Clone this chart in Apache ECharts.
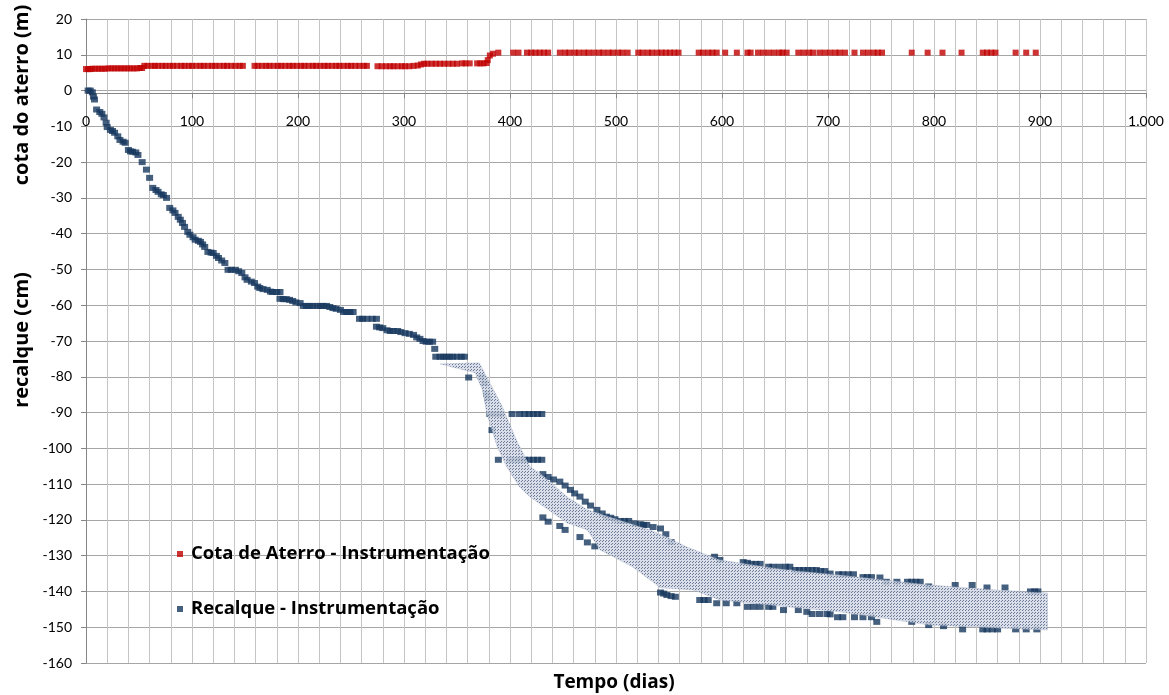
<!DOCTYPE html>
<html>
<head>
<meta charset="utf-8">
<script src="https://cdn.jsdelivr.net/npm/echarts@6/dist/echarts.min.js"></script>
<style>html,body{margin:0;padding:0;background:#fff}#c{width:1169px;height:695px}</style>
</head>
<body>
<div id="c"></div>
<script>
// Cota de aterro (m) – [dia, cota]
const cotaAterro = [
 [0,6.0],[2,6.0],[4,6.0],[6,6.1],[9,6.1],[12,6.1],[15,6.1],[18,6.1],[21,6.2],[24,6.2],[27,6.2],[30,6.2],[33,6.2],[36,6.2],[39,6.2],[42,6.2],[45,6.2],[48,6.2],[51,6.3],[53,6.3],
 [55,6.9],[58,6.9],[62,6.9],[65,6.9],[68,6.9],[72,6.9],[75,6.9],[79,6.9],[82,6.9],[86,6.9],[90,6.9],[93,6.9],[97,6.9],[100,6.9],[104,6.9],[108,6.9],[111,6.9],[115,6.9],[119,6.9],[122,6.9],[126,6.9],[130,6.9],[133,6.9],[137,6.9],[141,6.9],[145,6.9],[148,6.9],
 [159,6.9],[162,6.9],[166,6.9],[170,6.9],[173,6.9],[177,6.9],[181,6.9],[184,6.9],[188,6.9],[192,6.9],[195,6.9],[199,6.9],[203,6.9],[206,6.9],[210,6.9],[214,6.9],[217,6.9],[221,6.9],[225,6.9],[228,6.9],[232,6.9],[236,6.9],[239,6.9],[243,6.9],[247,6.9],[250,6.9],[254,6.9],[258,6.9],[262,6.9],[265,6.9],
 [275,6.8],[279,6.8],[283,6.8],[287,6.8],[290,6.8],[294,6.8],[298,6.8],[301,6.8],[305,6.8],[309,6.9],[313,7.0],
 [316,7.3],[319,7.5],[322,7.5],[326,7.5],[330,7.5],[334,7.5],[338,7.5],[342,7.5],[346,7.5],[350,7.5],
 [355,7.6],[358,7.6],[362,7.6],[369,7.6],[372,7.6],[375,7.6],[378,7.7],[379,8.5],[381,9.8],[384,10.3],
 [389,10.6],[403,10.6],[408,10.6],[416,10.6],[420,10.6],[424,10.6],[428,10.6],[432,10.6],[436,10.6],
 [447,10.6],[452,10.6],[456,10.6],[461,10.6],[465,10.6],[470,10.6],[474,10.6],
 [479,10.6],[484,10.6],[488,10.6],[493,10.6],[497,10.6],[502,10.6],[506,10.6],[511,10.6],
 [521,10.6],[525,10.6],[530,10.6],[534,10.6],[539,10.6],[543,10.6],[547,10.6],[551,10.6],[555,10.6],[559,10.6],
 [578,10.6],[582,10.6],[587,10.6],[591,10.6],[595,10.6],[603,10.6],[614,10.6],[624,10.6],[627,10.6],
 [634,10.6],[639,10.6],[644,10.6],[649,10.6],[654,10.6],[657,10.6],[661,10.6],
 [672,10.6],[677,10.6],[682,10.6],[686,10.6],[692,10.6],[697,10.6],[702,10.6],[707,10.6],[711,10.6],[716,10.6],
 [725,10.6],[733,10.6],[738,10.6],[743,10.6],[747,10.6],[751,10.6],
 [779,10.6],[794,10.6],[808,10.6],[826,10.6],[846,10.6],[850,10.6],[854,10.6],[858,10.6],[877,10.6],[887,10.6],[896,10.6]
];

// Recalque (cm) – [dia, recalque]
const recalque = [
 [2,0],[4,0],[6,-0.5],[7,-1.7],[8,-2.5],[10,-5.3],[13,-6],[15,-6.5],[17,-7.5],[19,-9],[20,-10.2],[23,-11],[25,-11.3],[27,-11.8],[30,-12.8],[32,-13.8],[35,-14.3],[37,-14.6],[40,-16.6],[42,-17],[44,-17.1],[47,-17.3],[49,-18],[53,-20],
 [57,-22.1],[60,-24.4],[63,-27.2],[66,-27.8],[68,-28.3],[71,-29],[73,-29.2],[76,-30],[79,-32.8],[82,-33.5],[84,-34.2],[87,-35.3],[89,-36.1],[91,-37],[93,-38.1],[96,-39.5],[98,-40.3],[101,-41],[103,-41.7],[106,-42],[108,-42.3],[110,-43],[112,-43.7],[115,-45.1],[118,-45.3],[120,-45.4],[123,-46.2],[125,-46.8],[128,-47.5],[131,-48.2],
 [134,-50.1],[137,-50.1],[141,-50.1],[144,-50.5],[147,-51],[150,-52.2],[152,-52.9],[156,-53.4],[159,-53.8],[162,-54.8],[164,-55.2],[167,-55.5],[171,-55.7],[174,-56.2],[176,-56.3],[180,-56.3],[183,-56.3],[183,-58.2],[186,-58.3],[189,-58.3],[192,-58.5],[195,-58.8],[198,-59.2],[202,-59.4],
 [205,-60.2],[208,-60.2],[211,-60.2],[214,-60.2],[218,-60.2],[221,-60.2],[224,-60.2],[227,-60.2],[230,-60.5],[233,-60.8],[236,-61],[240,-61.3],[243,-61.9],[246,-61.9],[249,-61.9],[252,-61.9],
 [258,-63.8],[261,-63.8],[265,-63.8],[270,-63.8],[274,-63.8],[274,-66],[277,-66.2],[280,-66.4],[284,-67],[287,-67.2],[290,-67.2],[294,-67.2],[297,-67.5],[301,-67.8],[305,-68],[309,-68.3],[312,-69],[315,-69.4],[318,-70],[321,-70.2],[324,-70.2],[327,-70.2],[329,-72.2],
 [330,-74.4],[334,-74.4],[337,-74.4],[340,-74.4],[343,-74.4],[346,-74.4],[350,-74.4],[354,-74.4],[357,-74.4],[361,-80.2],
 [373,-80],[376,-81.8],[378,-84.7],[379,-86],[381,-90.4],[383,-94.9],[386,-90.4],[391,-90.4],[402,-90.4],[409,-90.4],[414,-90.4],[418,-90.4],[422,-90.4],[426,-90.4],[430,-90.4],
 [389,-103.2],[400,-103.2],[405,-103.2],[410,-103.2],[414,-103.2],[418,-103.2],[422,-103.2],[426,-103.2],[430,-103.2],
 [431,-107.2],[436,-108],[441,-108.7],[447,-109.3],[452,-110.4],[457,-111.6],[461,-112.6],[466,-113.5],[471,-114.9],[476,-116],[482,-117.2],[487,-118.2],[491,-119.1],[495,-119.4],[499,-119.8],[504,-120.3],[508,-120.3],[512,-120.3],[518,-121],[523,-121.2],[526,-121.4],[529,-121.4],[535,-122],[542,-122.4],[547,-124],[552,-126.2],
 [593,-130.3],[598,-131.2],[620,-131.8],[624,-132],[628,-132.3],[632,-132.3],[636,-132.3],[644,-133.1],[648,-133.1],[654,-133.1],[660,-133.1],[664,-133.1],[669,-134],[673,-134],[677,-134],[681,-134],[685,-134],[689,-134],[693,-134.3],[697,-134.3],[702,-135],[710,-135.2],[714,-135.2],[719,-135.2],[724,-135.2],[733,-136],[737,-136],[741,-136],[749,-136.1],[755,-137.3],[765,-137.3],[775,-137.3],[779,-137.3],[783,-137.3],[787,-137.3],[795,-138.6],[820,-138.2],[836,-138.2],[850,-138.9],[867,-138.9],[891,-140],[895,-140],[898,-140],
 [431,-119.3],[436,-120.5],[447,-121.7],[452,-122.8],[466,-124.8],[473,-126.3],[480,-127.4],
 [542,-140.3],[545,-140.6],[548,-141],[552,-141.3],[556,-141.5],[579,-142.4],[583,-142.4],[587,-142.4],[595,-143.3],[604,-143.3],[614,-143.3],[624,-144.3],[630,-144.3],[636,-144.3],[644,-144.3],[648,-144.3],[658,-145.2],[672,-145.2],[680,-145.7],[685,-146.3],[692,-146.3],[699,-146.3],[702,-146.4],[709,-147.2],[714,-147.2],[725,-147.2],[733,-147.2],[741,-147.2],[746,-148.5],[779,-148.5],[795,-149.4],[809,-149.7],[827,-150.6],[846,-150.6],[850,-150.6],[855,-150.6],[860,-150.6],[877,-150.6],[887,-150.6],[897,-150.6]
];

// Faixa (envoltória) – limites superior e inferior [dia, recalque]
const faixaSuperior = [
 [334,-76.4],[371,-76.1],[392,-87.9],[406,-97.6],[419,-105.2],[428,-106.9],[454,-113.6],[473,-117.2],[494,-119.2],[532,-122.8],[548,-124.8],[567,-127.6],[598,-131.2],[661,-134.0],[711,-135.4],[796,-138.2],[859,-139.6],[907,-140.4]
];
const faixaInferior = [
 [334,-76.4],[367,-78.9],[374,-83.7],[378,-90.1],[388,-99.6],[397,-105.2],[409,-110.8],[419,-113.6],[454,-120.9],[473,-122.8],[485,-128.4],[516,-133.2],[542,-139.0],[573,-139.6],[598,-142.4],[661,-144.3],[711,-145.7],[796,-149.4],[859,-150.2],[907,-150.8]
];

const xTickLabels = ['0','100','200','300','400','500','600','700','800','900','1.000'];
const Y_MIN = -160, Y_MAX = 20;

function makePattern(){
  const c = document.createElement('canvas');
  c.width = 3; c.height = 3;
  const g = c.getContext('2d');
  g.fillStyle = 'rgba(210,216,228,0.85)';
  g.fillRect(0,0,3,3);
  g.fillStyle = 'rgba(95,112,145,0.9)';
  g.fillRect(0,0,1,1);
  g.fillRect(2,1,1,1);
  return c;
}
const pattern = makePattern();

const FONT = 'Lato, "Open Sans", sans-serif';
const TFONT = '"Open Sans", Lato, sans-serif';
const chart = echarts.init(document.getElementById('c'), null, {renderer:'canvas'});
chart.setOption({
  animation: false,
  backgroundColor: '#fff',
  grid: {left: 86, right: 23, top: 19, bottom: 32},
  legend: {
    orient: 'vertical', left: 172, top: 539, itemGap: 35,
    itemWidth: 6, itemHeight: 6, icon: 'rect',
    textStyle: {fontFamily: TFONT, fontWeight: 'bold', fontSize: 18.5, color: '#000', lineHeight: 20, padding: [0,0,0,3]},
    data: ['Cota de Aterro - Instrumentação', 'Recalque - Instrumentação']
  },
  xAxis: {
    type: 'value', min: 0, max: 1000, interval: 100, position: 'bottom', offset: 0,
    axisLine: {show: true, onZero: false, lineStyle: {color: '#868686', width: 1}},
    axisTick: {show: true, length: 5, lineStyle: {color: '#868686'}},
    axisLabel: {margin: 21, fontFamily: FONT, fontSize: 14, color: '#000',
      formatter: v => xTickLabels[Math.round(v/100)]},
    splitLine: {show: true, lineStyle: {color: '#c4c4c4', width: 1}},
    minorTick: {show: false, splitNumber: 5},
    minorSplitLine: {show: true, lineStyle: {color: '#c4c4c4', width: 1}}
  },
  yAxis: {
    type: 'value', min: Y_MIN, max: Y_MAX, interval: 10,
    axisLine: {show: true, onZero: false, lineStyle: {color: '#868686', width: 1}},
    axisTick: {show: true, length: 5, lineStyle: {color: '#868686'}},
    axisLabel: {margin: 14, fontFamily: FONT, fontSize: 14, color: '#000'},
    splitLine: {show: true, lineStyle: {color: '#a6a6a6', width: 1}}
  },
  series: [
    {
      name: 'Cota de Aterro - Instrumentação', type: 'scatter',
      symbol: 'rect', symbolSize: [6,6],
      itemStyle: {color: '#c00000'},
      data: cotaAterro, z: 3
    },
    {
      name: 'Recalque - Instrumentação', type: 'scatter',
      symbol: 'rect', symbolSize: [7,6],
      itemStyle: {color: '#17375e'},
      data: recalque, z: 3
    },
    {
      name: 'faixa', type: 'custom', z: 5, silent: true,
      data: [faixaSuperior[0]],
      renderItem: function(params, api){
        const pts = faixaSuperior.map(p => api.coord(p))
          .concat(faixaInferior.slice().reverse().map(p => api.coord(p)));
        return {type: 'polygon', shape: {points: pts},
          style: {fill: {image: pattern, repeat: 'repeat'}, stroke: 'rgba(150,165,190,0.5)', lineWidth: 0.6}};
      }
    }
  ],
  graphic: [
    {type: 'text', x: 22, y: 95, rotation: Math.PI/2,
     style: {text: 'cota do aterro (m)', font: 'bold 20px ' + TFONT, fill: '#000', align: 'center', verticalAlign: 'middle', textAlign: 'center', textVerticalAlign: 'middle'}},
    {type: 'text', x: 22, y: 340, rotation: Math.PI/2,
     style: {text: 'recalque (cm)', font: 'bold 20px ' + TFONT, fill: '#000', align: 'center', verticalAlign: 'middle', textAlign: 'center', textVerticalAlign: 'middle'}},
    {type: 'text', x: 614, y: 683,
     style: {text: 'Tempo (dias)', font: 'bold 19px ' + TFONT, fill: '#000', align: 'center', verticalAlign: 'middle', textAlign: 'center', textVerticalAlign: 'middle'}}
  ]
});
// Place the x axis on the zero line of the y axis, using the chart's own scale.
const yZero = chart.convertToPixel({yAxisIndex: 0}, 0);
const yBottom = chart.convertToPixel({yAxisIndex: 0}, Y_MIN);
chart.setOption({xAxis: {offset: yZero - yBottom}});
</script>
</body>
</html>
